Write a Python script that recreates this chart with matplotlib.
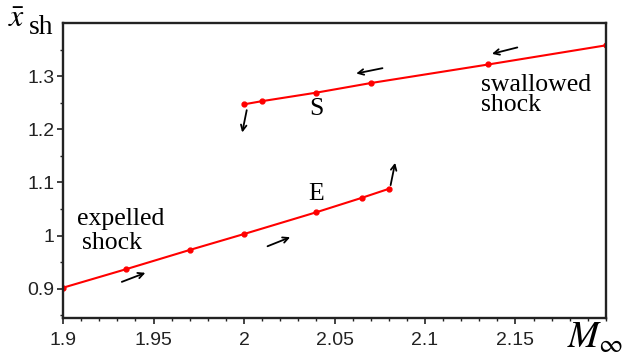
import numpy as np
import matplotlib.pyplot as plt

# Branche "expelled shock" (E)
M_exp = [1.90, 1.935, 1.97, 2.00, 2.04, 2.065, 2.08]
x_exp = [0.902, 0.937, 0.973, 1.003, 1.044, 1.071, 1.088]

# Branche "swallowed shock" (S)
M_swa = [2.00, 2.01, 2.04, 2.07, 2.135, 2.20]
x_swa = [1.247, 1.253, 1.269, 1.287, 1.322, 1.358]

xticks = [1.9, 1.95, 2.0, 2.05, 2.1, 2.15]
xtick_labels = ['1.9', '1.95', '2', '2.05', '2.1', '2.15']
yticks = [0.9, 1.0, 1.1, 1.2, 1.3]
ytick_labels = ['0.9', '1', '1.1', '1.2', '1.3']

# Flèches (départ, arrivée) en coordonnées des données
arrows = [
    ((1.9325, 0.913), (1.9455, 0.930)),
    ((2.0130, 0.980), (2.0255, 0.997)),
    ((2.0810, 1.095), (2.0835, 1.137)),
    ((2.0015, 1.236), (1.9990, 1.194)),
    ((2.0765, 1.315), (2.0620, 1.305)),
    ((2.1510, 1.354), (2.1370, 1.342)),
]

plt.rcParams['mathtext.fontset'] = 'stix'

fig = plt.figure(figsize=(6.27, 3.55), dpi=100)
ax = fig.add_axes([0.1005, 0.1042, 0.866, 0.831])

ax.plot(M_exp, x_exp, color='red', lw=1.5, marker='o', ms=3.5, clip_on=True)
ax.plot(M_swa, x_swa, color='red', lw=1.5, marker='o', ms=3.5, clip_on=True)

for (x0, y0), (x1, y1) in arrows:
    ax.annotate('', xy=(x1, y1), xytext=(x0, y0),
                arrowprops=dict(arrowstyle='->', color='black', lw=1.3,
                                shrinkA=0, shrinkB=0))

serif = 'Liberation Serif'
ax.text(2.04, 1.258, 'S', family=serif, fontsize=18.5, ha='center', va='top')
ax.text(2.04, 1.057, 'E', family=serif, fontsize=18.5, ha='center', va='bottom')
ax.text(2.131, 1.284, 'swallowed', family=serif, fontsize=18.5, va='center')
ax.text(2.131, 1.245, 'shock', family=serif, fontsize=18.5, va='center')
ax.text(1.908, 1.031, 'expelled', family=serif, fontsize=18.5, va='center')
ax.text(1.9105, 0.986, 'shock', family=serif, fontsize=18.5, va='center')

ax.set_xlim(1.9, 2.2)
ax.set_ylim(0.845, 1.4)
ax.set_xticks(xticks)
ax.set_xticklabels(xtick_labels)
ax.set_yticks(yticks)
ax.set_yticklabels(ytick_labels)
ax.set_xticks(np.arange(1.9, 2.2, 0.01), minor=True)
ax.set_yticks(np.arange(0.85, 1.4, 0.05), minor=True)

for lab in ax.get_xticklabels() + ax.get_yticklabels():
    lab.set_family('Liberation Sans')
    lab.set_fontsize(14)
    lab.set_color('#222222')
ax.tick_params(which='major', direction='out', length=4, width=1.2, color='#222222')
ax.tick_params(which='minor', direction='out', length=2, width=1, color='#222222')
ax.tick_params(axis='x', which='major', pad=6)
ax.tick_params(axis='y', which='major', pad=2)
for s in ax.spines.values():
    s.set_linewidth(1.7)
    s.set_color('#222222')

# Libellés des axes
fig.text(0.012, 0.924, r'$\bar{x}$', fontsize=23, va='baseline')
fig.text(0.046, 0.903, 'sh', family=serif, fontsize=20, va='baseline')
fig.text(0.905, 0.02, r'$M_{\infty}$', fontsize=27, va='baseline')

fig.savefig('out.png', dpi=100)
